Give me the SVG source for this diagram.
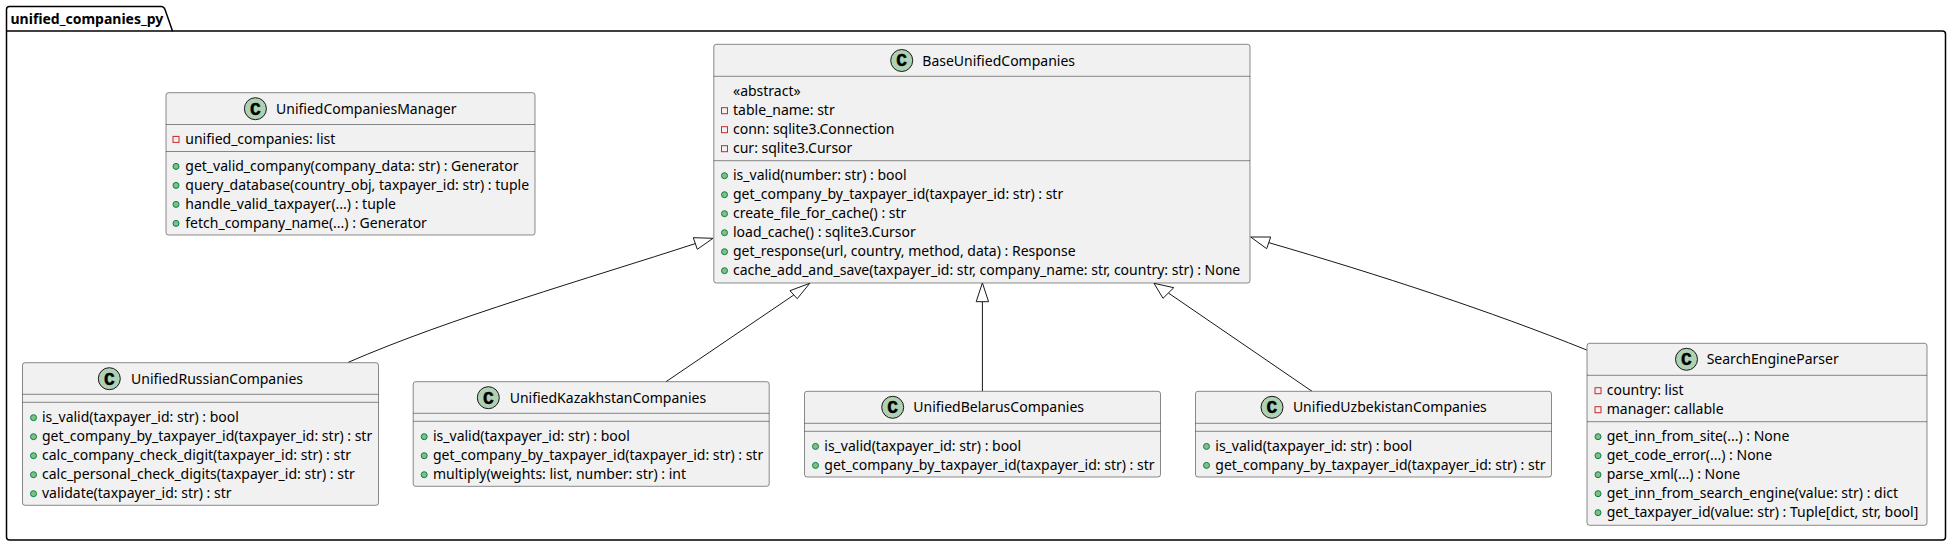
<svg xmlns="http://www.w3.org/2000/svg" width="1950" height="546" viewBox="0 0 1950 546">
<style>
text{font-family:"Noto Sans","DejaVu Sans",sans-serif;font-size:14px;fill:#000}
.b{fill:#F1F1F1;stroke:#181818;stroke-width:.5}
.s{stroke:#181818;stroke-width:.5;fill:none}
.c{fill:#ADD1B2;stroke:#181818;stroke-width:1}
text.g{font-family:"Liberation Mono",monospace;font-weight:bold;font-size:18px;text-anchor:middle;stroke:#000;stroke-width:.4}
.e{fill:none;stroke:#181818;stroke-width:1}
.a{fill:#fff;stroke:#181818;stroke-width:1}
</style>
<defs>
<rect id="pv" x="-3" y="-2.600" width="6" height="6" fill="none" stroke="#C82930" stroke-width="1"/>
<circle id="pb" cy=".4" r="3" fill="#84BE84" stroke="#038048" stroke-width="1"/>
</defs>
<g id="package">
<path d="M6.5 31V9.5Q6.5 6.500 9.500 6.500H161Q164 6.500 165 9.500L172.500 31H1942.500Q1945.500 31 1945.500 34V537Q1945.500 540 1942.500 540H9.500Q6.500 540 6.500 537Z" fill="none" stroke="#000" stroke-width="1.500"/>
<path d="M6.500 31H172.500" fill="none" stroke="#000" stroke-width="1.500"/>
<text x="10.500" y="23.500" font-weight="bold">unified_companies_py</text>
</g>
<g id="connectors">
<path class="e" d="M348.300 362.300C450 318 590 278 695.500 243.500"/><polygon class="a" points="713,238.300 693.300,237.700 697.300,249.300"/>
<path class="e" d="M666 381.700L793.800 295"/><polygon class="a" points="809.800,283.300 790,290.700 797.200,298.700"/>
<path class="e" d="M982.400 391.300V301.700"/><polygon class="a" points="982.400,282.900 976.200,301.700 988.600,301.700"/>
<path class="e" d="M1312 391.300L1168.400 293"/><polygon class="a" points="1154,283.300 1163,298.300 1173.800,287.700"/>
<path class="e" d="M1586.700 350C1490 311 1380 275 1269 242.700"/><polygon class="a" points="1250.700,237 1270.700,237 1266.700,248.700"/>
</g>
<g id="UnifiedCompaniesManager">
<rect class="b" x="166" y="92.700" width="369" height="142.300" rx="2.500"/>
<path class="s" d="M166 124.500H535M166 151.500H535"/>
<ellipse class="c" cx="255.400" cy="108.700" rx="11" ry="11"/><text class="g" x="255.400" y="114.500">C</text>
<text x="276" y="113.500">UnifiedCompaniesManager</text>
<use href="#pv" x="176" y="139"/><text x="185.300" y="143.500">unified_companies: list</text>
<use href="#pb" x="176" y="166"/><text x="185.300" y="170.500">get_valid_company(company_data: str) : Generator</text>
<use href="#pb" x="176" y="185"/><text x="185.300" y="189.500">query_database(country_obj, taxpayer_id: str) : tuple</text>
<use href="#pb" x="176" y="204"/><text x="185.300" y="208.500">handle_valid_taxpayer(...) : tuple</text>
<use href="#pb" x="176" y="223"/><text x="185.300" y="227.500">fetch_company_name(...) : Generator</text>
</g>
<g id="BaseUnifiedCompanies">
<rect class="b" x="713.800" y="44.300" width="536.200" height="238.700" rx="2.500"/>
<path class="s" d="M713.800 76.300H1250M713.800 160.700H1250"/>
<ellipse class="c" cx="901.700" cy="60.500" rx="11" ry="11"/><text class="g" x="901.700" y="66.300">C</text>
<text x="922.300" y="65.500">BaseUnifiedCompanies</text>
<text x="733" y="96">«abstract»</text>
<use href="#pv" x="724.500" y="110.300"/><text x="733" y="115">table_name: str</text>
<use href="#pv" x="724.500" y="129.300"/><text x="733" y="134">conn: sqlite3.Connection</text>
<use href="#pv" x="724.500" y="148.300"/><text x="733" y="153">cur: sqlite3.Cursor</text>
<use href="#pb" x="724.500" y="175.300"/><text x="733" y="180">is_valid(number: str) : bool</text>
<use href="#pb" x="724.500" y="194.300"/><text x="733" y="199">get_company_by_taxpayer_id(taxpayer_id: str) : str</text>
<use href="#pb" x="724.500" y="213.300"/><text x="733" y="218">create_file_for_cache() : str</text>
<use href="#pb" x="724.500" y="232.300"/><text x="733" y="237">load_cache() : sqlite3.Cursor</text>
<use href="#pb" x="724.500" y="251.300"/><text x="733" y="256">get_response(url, country, method, data) : Response</text>
<use href="#pb" x="724.500" y="270.300"/><text x="733" y="275">cache_add_and_save(taxpayer_id: str, company_name: str, country: str) : None</text>
</g>
<g id="UnifiedRussianCompanies">
<rect class="b" x="22.500" y="362.700" width="356" height="142.600" rx="2.500"/>
<path class="s" d="M22.500 394.300H378.500M22.500 402.300H378.500"/>
<ellipse class="c" cx="109.300" cy="378.700" rx="11" ry="11"/><text class="g" x="109.300" y="384.500">C</text>
<text x="131" y="383.500">UnifiedRussianCompanies</text>
<use href="#pb" x="33.500" y="417.300"/><text x="42" y="422">is_valid(taxpayer_id: str) : bool</text>
<use href="#pb" x="33.500" y="436.300"/><text x="42" y="441">get_company_by_taxpayer_id(taxpayer_id: str) : str</text>
<use href="#pb" x="33.500" y="455.300"/><text x="42" y="460">calc_company_check_digit(taxpayer_id: str) : str</text>
<use href="#pb" x="33.500" y="474.300"/><text x="42" y="479">calc_personal_check_digits(taxpayer_id: str) : str</text>
<use href="#pb" x="33.500" y="493.300"/><text x="42" y="498">validate(taxpayer_id: str) : str</text>
</g>
<g id="UnifiedKazakhstanCompanies">
<rect class="b" x="413.200" y="381.700" width="356" height="104.600" rx="2.500"/>
<path class="s" d="M413.200 413.300H769.200M413.200 421.300H769.200"/>
<ellipse class="c" cx="488.300" cy="397.700" rx="11" ry="11"/><text class="g" x="488.300" y="403.500">C</text>
<text x="509.700" y="402.500">UnifiedKazakhstanCompanies</text>
<use href="#pb" x="424.200" y="436.300"/><text x="433" y="441">is_valid(taxpayer_id: str) : bool</text>
<use href="#pb" x="424.200" y="455.300"/><text x="433" y="460">get_company_by_taxpayer_id(taxpayer_id: str) : str</text>
<use href="#pb" x="424.200" y="474.300"/><text x="433" y="479">multiply(weights: list, number: str) : int</text>
</g>
<g id="UnifiedBelarusCompanies">
<rect class="b" x="804.500" y="391.300" width="356" height="85.700" rx="2.500"/>
<path class="s" d="M804.500 423.300H1160.500M804.500 431.300H1160.500"/>
<ellipse class="c" cx="892.700" cy="407.300" rx="11" ry="11"/><text class="g" x="892.700" y="413.100">C</text>
<text x="913.300" y="412">UnifiedBelarusCompanies</text>
<use href="#pb" x="815.500" y="446"/><text x="824.300" y="450.500">is_valid(taxpayer_id: str) : bool</text>
<use href="#pb" x="815.500" y="465"/><text x="824.300" y="469.500">get_company_by_taxpayer_id(taxpayer_id: str) : str</text>
</g>
<g id="UnifiedUzbekistanCompanies">
<rect class="b" x="1195.500" y="391.300" width="356" height="85.700" rx="2.500"/>
<path class="s" d="M1195.500 423.300H1551.500M1195.500 431.300H1551.500"/>
<ellipse class="c" cx="1272" cy="407.300" rx="11" ry="11"/><text class="g" x="1272" y="413.100">C</text>
<text x="1292.900" y="412">UnifiedUzbekistanCompanies</text>
<use href="#pb" x="1206.500" y="446"/><text x="1215.300" y="450.500">is_valid(taxpayer_id: str) : bool</text>
<use href="#pb" x="1206.500" y="465"/><text x="1215.300" y="469.500">get_company_by_taxpayer_id(taxpayer_id: str) : str</text>
</g>
<g id="SearchEngineParser">
<rect class="b" x="1587" y="343.300" width="340" height="182" rx="2.500"/>
<path class="s" d="M1587 375.300H1927M1587 421.700H1927"/>
<ellipse class="c" cx="1686.500" cy="359.300" rx="11" ry="11"/><text class="g" x="1686.500" y="365.100">C</text>
<text x="1706.700" y="364">SearchEngineParser</text>
<use href="#pv" x="1598" y="390.300"/><text x="1606.700" y="395">country: list</text>
<use href="#pv" x="1598" y="409.300"/><text x="1606.700" y="414">manager: callable</text>
<use href="#pb" x="1598" y="436.300"/><text x="1606.700" y="441">get_inn_from_site(...) : None</text>
<use href="#pb" x="1598" y="455.300"/><text x="1606.700" y="460">get_code_error(...) : None</text>
<use href="#pb" x="1598" y="474.300"/><text x="1606.700" y="479">parse_xml(...) : None</text>
<use href="#pb" x="1598" y="493.300"/><text x="1606.700" y="498">get_inn_from_search_engine(value: str) : dict</text>
<use href="#pb" x="1598" y="512.300"/><text x="1606.700" y="517">get_taxpayer_id(value: str) : Tuple[dict, str, bool]</text>
</g>
</svg>
